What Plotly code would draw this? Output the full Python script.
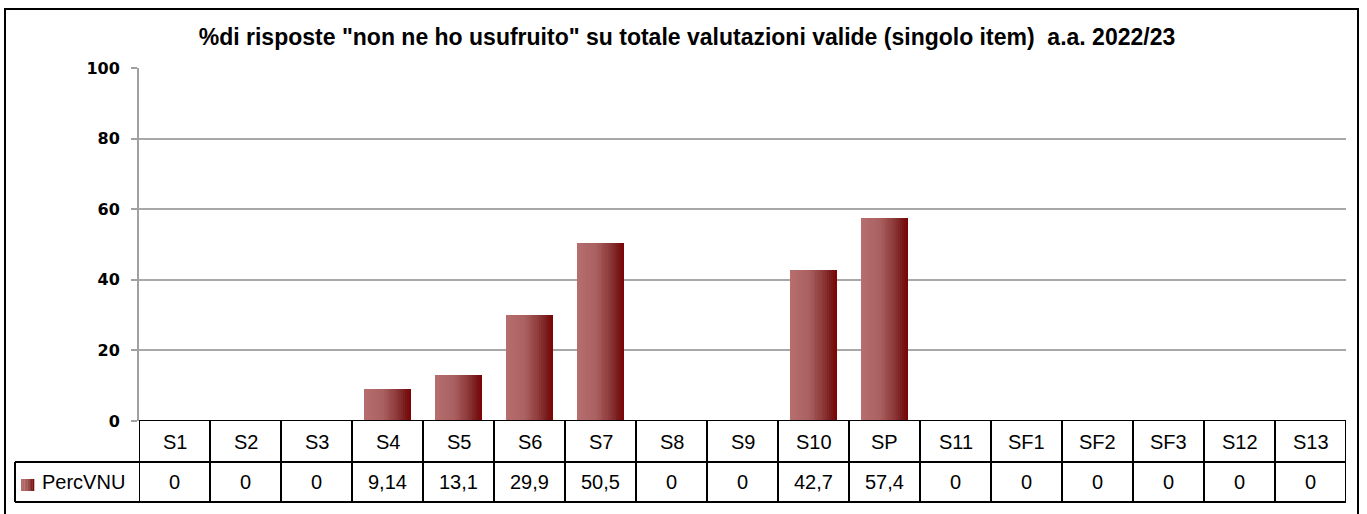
import plotly.graph_objects as go

categories = ["S1", "S2", "S3", "S4", "S5", "S6", "S7", "S8", "S9", "S10",
              "SP", "S11", "SF1", "SF2", "SF3", "S12", "S13"]
perc_vnu = [0, 0, 0, 9.14, 13.1, 29.9, 50.5, 0, 0, 42.7, 57.4, 0, 0, 0, 0, 0, 0]
series_name = "PercVNU"
y_ticks = [0, 20, 40, 60, 80, 100]
title_text = '%di risposte "non ne ho usufruito" su totale valutazioni valide (singolo item)  a.a. 2022/23'

W, H = 1367, 514
L, R, T, B = 139, 1346, 68, 421  # plot area in pixels
PW, PH = R - L, B - T


def px_x(px):
    return (px - L) / PW


def px_y(py):
    return (B - py) / PH


def fmt(v):
    if v == int(v):
        return str(int(v))
    return ("%g" % v).replace(".", ",")


stops = [(0.0, (182, 110, 110)), (0.4, (170, 96, 96)), (0.7, (142, 58, 58)),
         (0.9, (118, 22, 22)), (1.0, (128, 0, 0))]


def grad(t):
    for (t0, c0), (t1, c1) in zip(stops[:-1], stops[1:]):
        if t <= t1:
            f = (t - t0) / (t1 - t0) if t1 > t0 else 0
            c = [round(a + (b - a) * f) for a, b in zip(c0, c1)]
            return "rgb(%d,%d,%d)" % tuple(c)
    return "rgb(128,0,0)"


fig = go.Figure()
BW = 0.665
N = 24
for k in range(N):
    fig.add_trace(go.Bar(
        x=categories, y=perc_vnu,
        offset=-BW / 2 + k * BW / N, width=BW / N * 1.06 if k < N - 1 else BW / N,
        marker=dict(color=grad((k + 0.5) / N), line=dict(width=0)),
        showlegend=False, hoverinfo="skip",
    ))

shapes = []
annotations = []
line_k = dict(color="black", width=2)
n = len(categories)
row1_top, row1_bot, row2_bot = 421, 462, 502
# horizontal table lines
shapes.append(dict(type="line", xref="x", yref="y", x0=-0.5, x1=n - 0.5, y0=0, y1=0, line=line_k, layer="above"))
shapes.append(dict(type="line", xref="paper", yref="paper", x0=px_x(15), x1=1, y0=px_y(row1_bot), y1=px_y(row1_bot), line=line_k))
shapes.append(dict(type="line", xref="paper", yref="paper", x0=px_x(15), x1=1, y0=px_y(row2_bot), y1=px_y(row2_bot), line=line_k))
# vertical lines
for i in range(n + 1):
    shapes.append(dict(type="line", xref="x", yref="paper", x0=i - 0.5, x1=i - 0.5,
                       y0=px_y(row1_top), y1=px_y(row2_bot), line=line_k))
shapes.append(dict(type="line", xref="paper", yref="paper", x0=px_x(15), x1=px_x(15),
                   y0=px_y(row1_bot), y1=px_y(row2_bot), line=line_k))
# outer border
shapes.append(dict(type="rect", xref="paper", yref="paper", x0=px_x(5), x1=px_x(1358),
                   y0=px_y(530), y1=px_y(9), line=dict(color="black", width=2)))
# legend key (gradient square)
KN = 8
for k in range(KN):
    x0 = 21 + k * 13 / KN
    shapes.append(dict(type="rect", xref="paper", yref="paper",
                       x0=px_x(x0), x1=px_x(x0 + 13 / KN + 0.3),
                       y0=px_y(491), y1=px_y(479), line=dict(width=0),
                       fillcolor=grad((k + 0.5) / KN)))

cell_font = dict(family="Liberation Sans, Arial, sans-serif", size=20, color="black")
for c, v in zip(categories, perc_vnu):
    annotations.append(dict(x=c, xref="x", yref="paper", y=px_y((row1_top + row1_bot) / 2),
                            text=c, showarrow=False, font=cell_font, yanchor="middle"))
    annotations.append(dict(x=c, xref="x", yref="paper", y=px_y((row1_bot + row2_bot) / 2),
                            text=fmt(v), showarrow=False, font=cell_font, yanchor="middle"))
annotations.append(dict(x=px_x(40), xref="paper", yref="paper", y=px_y((row1_bot + row2_bot) / 2),
                        text=series_name, showarrow=False, font=cell_font,
                        xanchor="left", yanchor="middle"))

fig.update_layout(
    width=W, height=H,
    margin=dict(l=L, r=W - R, t=T, b=H - B, pad=0),
    paper_bgcolor="white", plot_bgcolor="white",
    barmode="overlay", bargap=0,
    title=dict(text="<b>" + title_text + "</b>", xref="container", yref="container",
               x=687 / W, xanchor="center", y=1 - 37 / H, yanchor="middle",
               font=dict(family="Liberation Sans, Arial, sans-serif", size=23, color="black")),
    xaxis=dict(type="category", categoryorder="array", categoryarray=categories,
               range=[-0.5, n - 0.5], showticklabels=False, showgrid=False,
               zeroline=False, showline=False, ticks=""),
    yaxis=dict(range=[0, 100], tickvals=y_ticks, ticktext=["<b>%d</b>" % t for t in y_ticks],
               showgrid=True, gridcolor="#a8a8a8", gridwidth=2,
               showline=True, linecolor="#a0a0a0", linewidth=2,
               ticks="outside", ticklen=6, tickcolor="#a0a0a0", tickwidth=2,
               ticklabelstandoff=8, zeroline=False,
               tickfont=dict(family="DejaVu Sans, sans-serif", size=16, color="black")),
    shapes=shapes, annotations=annotations,
)

fig.write_html("out.html", config={"displayModeBar": False},
               post_script="document.body.style.margin='0px';")
